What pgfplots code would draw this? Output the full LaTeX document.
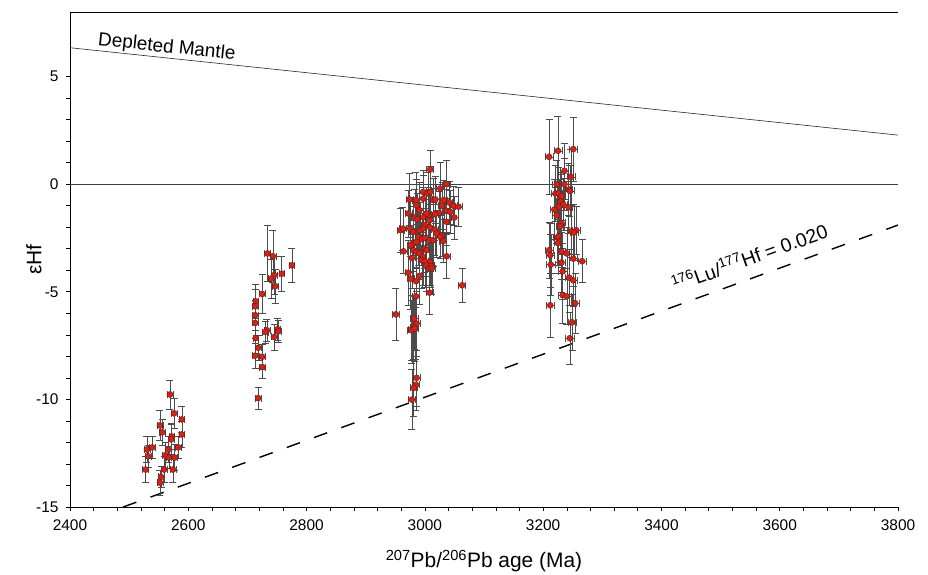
\documentclass[border=0pt]{standalone}
\usepackage{fontspec}
\setmainfont{Liberation Sans}
\usepackage{pgfplots}
\usepackage{pgfplotstable}
\pgfplotsset{compat=1.18}
\definecolor{ptred}{RGB}{210,35,25}
\definecolor{ptedge}{RGB}{110,20,15}

\pgfplotstableread{
x y ex ey
2569 -9.77 5 0.67
2576 -10.65 5 0.7
2589 -10.93 5 0.6
2552 -11.21 5 0.7
2556 -11.53 5 0.6
2589 -11.63 5 0.6
2572 -11.72 5 0.6
2571 -11.86 5 0.7
2583 -12.23 5 0.5
2566 -12.33 5 0.6
2539 -12.23 5 0.5
2530 -12.33 5 0.6
2532 -12.64 5 0.5
2561 -12.6 5 0.6
2567 -12.7 5 0.5
2577 -12.7 5 0.6
2528 -13.26 5 0.6
2559 -13.26 5 0.6
2574 -13.26 5 0.6
2554 -13.6 5 0.5
2552 -13.87 5 0.6
2734 -3.22 5 1.3
2743 -3.35 5 1.2
2775 -3.77 5 0.8
2758 -4.16 5 0.8
2745 -4.23 5 0.9
2740 -4.39 5 0.9
2747 -4.74 5 0.8
2725 -5.1 5 0.9
2714 -5.44 5 0.8
2713 -5.67 5 0.8
2713 -6.09 5 0.7
2713 -6.45 5 0.7
2733 -6.79 5 0.5
2730 -6.87 5 0.5
2751 -6.74 5 0.5
2752 -6.84 5 0.5
2745 -7.1 5 0.6
2714 -7.15 5 0.7
2718 -7.6 5 0.6
2713 -7.97 5 0.6
2725 -8.02 5 0.6
2725 -8.5 5 0.5
2718 -9.94 5 0.5
3009 0.68 6 0.9
3037 0.0 6 1.1
3026 -0.2 6 1.2
2997 -0.36 6 1.0
3005 -0.43 6 1.0
3009 -0.36 6 1.2
2997 -0.67 6 1.1
2974 -0.71 6 1.2
2985 -0.74 6 1.3
3014 -0.74 6 1.0
3018 -0.71 6 1.1
3032 -0.74 6 0.9
3041 -0.85 6 1.0
2986 -0.98 6 1.2
3029 -1.0 6 1.1
3048 -1.0 6 0.9
3057 -1.05 6 0.9
2991 -1.21 6 1.3
3037 -1.24 6 1.0
3043 -1.29 6 1.0
2972 -1.36 6 1.1
3024 -1.33 6 1.0
3017 -1.4 6 1.2
3006 -1.44 6 1.3
3003 -1.36 6 1.1
3050 -1.55 6 1.0
2983 -1.55 6 1.3
2987 -1.63 6 1.2
2997 -1.55 6 1.4
3037 -1.75 6 1.1
3008 -1.67 6 1.3
3000 -1.9 6 1.2
2959 -2.14 6 1.0
2963 -2.06 6 1.0
2975 -2.06 6 1.3
2980 -2.22 6 1.2
2992 -2.14 6 1.3
2997 -2.06 6 1.4
3009 -2.01 6 1.1
3017 -2.11 6 1.2
3020 -2.29 6 1.1
3029 -2.37 6 1.0
2989 -2.45 6 1.3
2995 -2.55 6 1.2
3000 -2.5 6 1.4
3008 -2.6 6 1.3
3014 -2.6 6 1.2
3026 -2.45 6 1.0
3031 -2.65 6 1.0
2981 -2.76 6 1.3
2986 -2.68 6 1.2
2964 -3.12 6 1.0
2976 -2.84 6 1.5
2981 -3.07 6 1.4
2986 -3.15 6 1.3
2991 -3.22 6 1.2
3000 -2.99 6 1.1
3003 -3.07 6 1.2
2997 -3.38 6 1.3
3037 -3.35 6 1.0
2978 -3.43 6 1.4
2995 -3.53 6 1.3
3000 -3.58 6 1.2
3009 -3.61 6 1.1
3003 -3.77 6 1.2
3010 -3.8 6 1.0
3008 -3.92 6 1.1
3012 -3.9 6 1.2
2972 -4.11 6 1.5
2991 -4.26 6 1.3
2976 -4.39 6 1.4
2985 -4.51 6 1.2
3008 -5.04 6 1.0
2985 -5.21 6 1.3
3063 -4.7 6 0.8
2951 -6.05 6 1.2
2982 -6.25 6 1.4
2986 -6.48 6 1.5
2981 -6.64 6 1.5
2978 -6.74 6 1.6
2977 -6.79 6 1.4
2983 -6.71 6 1.5
2986 -9.0 6 1.3
2985 -9.32 6 1.2
2981 -9.47 6 1.3
2978 -10.01 6 1.4
3210 1.27 7 1.75
3225 1.55 7 1.6
3251 1.63 7 1.5
3236 0.62 7 1.3
3247 0.34 7 1.3
3236 0.0 7 1.2
3223 0.0 7 1.1
3243 -0.25 7 1.2
3245 -0.31 7 1.2
3221 -0.43 7 1.3
3226 -0.43 7 1.2
3231 -0.56 7 1.1
3229 -0.82 7 1.3
3234 -0.93 7 1.2
3227 -1.05 7 1.3
3243 -1.08 7 1.2
3219 -1.18 7 1.4
3223 -1.44 7 1.3
3231 -1.8 7 1.2
3229 -1.95 7 1.3
3247 -2.19 7 1.2
3256 -2.14 7 1.1
3252 -2.25 7 1.3
3224 -2.48 7 1.3
3226 -2.42 7 1.2
3225 -2.73 7 1.4
3210 -3.07 7 1.3
3231 -3.12 7 1.3
3240 -3.22 7 1.2
3212 -3.3 7 1.5
3251 -3.46 7 1.3
3266 -3.58 7 1.0
3231 -3.64 7 1.4
3213 -3.74 7 1.4
3233 -4.05 7 1.3
3244 -4.34 7 1.3
3251 -4.47 7 1.2
3233 -5.16 7 1.3
3240 -5.21 7 1.3
3212 -5.63 7 1.5
3254 -5.53 7 1.4
3249 -6.42 7 1.3
3245 -7.16 7 1.2
}\data

\begin{document}
\begin{tikzpicture}
\begin{axis}[
  scale only axis, width=828bp, height=495bp,
  at={(0,0)}, anchor=south west,
  xmin=2400, xmax=3800, ymin=-15, ymax=8,
  axis x line=box, axis y line=left,
  x axis line style={-}, y axis line style={-},
  axis line style={line width=0.8bp},
  xtick={2400,2600,...,3800}, minor x tick num=4,
  ytick={-15,-10,-5,0,5}, minor y tick num=4,
  xtick pos=left, ytick pos=left,
  tick align=outside,
  major tick length=4bp, minor tick length=4bp,
  every tick/.style={black, line width=0.6bp},
  ticklabel style={font=\fontsize{15.5}{18}\selectfont},
  xticklabel style={yshift=-5bp},
  yticklabel style={xshift=-4bp},
  /pgf/number format/assume math mode=true,
  /pgf/number format/1000 sep={},
  xlabel={\textsuperscript{207}Pb/\textsuperscript{206}Pb age (Ma)},
  ylabel={εHf},
  label style={font=\fontsize{21}{24}\selectfont},
  xlabel style={at={(axis description cs:0.5,-0.1232)}, anchor=base},
  ylabel style={at={(axis description cs:-0.0435,0.5)}, anchor=center},
  clip=true,
]
\addplot[black!75, line width=0.7bp] coordinates {(2400,0) (3800,0)};
\addplot[black!85, line width=0.6bp] coordinates {(2400,6.34) (3800,2.28)};
\addplot[black, line width=1.4bp, dash pattern=on 14bp off 15bp] coordinates {(2490,-15) (3800,-1.9)};
\addplot[only marks, mark=*, mark size=3bp,
  mark options={fill=ptred, draw=ptedge, line width=0.4bp},
  error bars/.cd, x dir=both, x explicit, y dir=both, y explicit,
  error bar style={black!70, line width=0.5bp},
  error mark options={rotate=90, mark size=3.5bp, black!70, line width=0.5bp}]
  table[x=x, y=y, x error=ex, y error=ey] {\data};
\node[anchor=base west, rotate=-6, font=\fontsize{19}{21}\selectfont] at (axis cs:2441,6.47) {Depleted Mantle};
\node[anchor=base west, rotate=19.9, font=\fontsize{19.5}{21}\selectfont] at (axis cs:3418,-5.1) {\textsuperscript{176}Lu/\textsuperscript{177}Hf = 0.020};
\end{axis}
\pgfresetboundingbox
\path[use as bounding box] (-70bp,-68bp) rectangle (858bp,507bp);
\end{tikzpicture}
\end{document}
